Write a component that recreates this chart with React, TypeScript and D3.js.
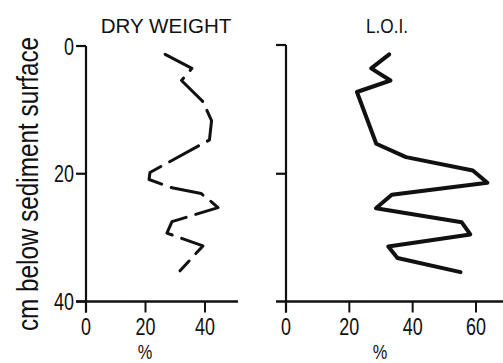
import React from "react";
import * as d3 from "d3";

// Dry weight profile (%), by depth (cm below sediment surface)
const dryDepth = [1.3, 3.5, 5.4, 8.7, 11.7, 14.7, 19.8, 20.9, 22.2, 23.1, 24.2, 25.3, 27.5, 29.3, 31.3, 35.2];
const dryWeight = [26.6, 35.6, 32.1, 39.3, 42.2, 41.5, 21.5, 21.2, 28.9, 38.7, 41.7, 44.4, 28.9, 27.2, 39.3, 31.6];

// Loss on ignition profile (%), by depth
const loiDepth = [1.3, 3.5, 5.4, 7.2, 15.3, 17.4, 19.5, 21.4, 23.3, 25.4, 27.6, 29.5, 31.4, 33.2, 35.4];
const loiValue = [32.6, 26.9, 33.0, 22.4, 28.5, 37.9, 59.0, 63.6, 33.4, 28.4, 55.5, 58.2, 32.3, 35.2, 55.1];

const depthTicks = [0, 20, 40];
const dryTicks = [0, 20, 40];
const loiTicks = [0, 20, 40, 60];

const W = 503;
const H = 363;
const FONT = "'Liberation Sans', Arial, sans-serif";
const INK = "#111";

// Condensed text: regular sans squeezed horizontally around its anchor point
function Narrow({
  x,
  y,
  size,
  anchor = "middle",
  squeeze = 0.78,
  rotate = 0,
  children,
}: {
  x: number;
  y: number;
  size: number;
  anchor?: "start" | "middle" | "end";
  squeeze?: number;
  rotate?: number;
  children: React.ReactNode;
}) {
  return (
    <text
      transform={`translate(${x}, ${y}) rotate(${rotate}) scale(${squeeze}, 1)`}
      textAnchor={anchor}
      fontSize={size}
      fill={INK}
    >
      {children}
    </text>
  );
}

export default function App() {
  const y = d3.scaleLinear().domain([0, 40]).range([46, 301.5]);
  const xDry = d3.scaleLinear().domain([0, 40]).range([86, 205]);
  const xLoi = d3.scaleLinear().domain([0, 60]).range([286, 476]);

  const dryLine = d3
    .line<number>()
    .x((d) => xDry(d))
    .y((_, i) => y(dryDepth[i]));
  const loiLine = d3
    .line<number>()
    .x((d) => xLoi(d))
    .y((_, i) => y(loiDepth[i]));

  const yBottom = y(40);

  return (
    <svg
      width={W}
      height={H}
      viewBox={`0 0 ${W} ${H}`}
      style={{ position: "absolute", left: 0, top: 0, background: "#fff" }}
      fontFamily={FONT}
    >
      {/* Y axis title */}
      <Narrow x={38} y={184} size={30} rotate={-90} squeeze={0.81}>
        cm below sediment surface
      </Narrow>

      {/* Panel titles */}
      <Narrow x={166} y={33} size={21} squeeze={0.98}>
        DRY WEIGHT
      </Narrow>
      <Narrow x={387} y={33} size={21} squeeze={0.82}>
        L.O.I.
      </Narrow>

      {/* Left panel axes */}
      <line x1={xDry(0)} x2={xDry(0)} y1={y(0)} y2={yBottom + 11} stroke={INK} strokeWidth={2.2} />
      <line x1={76} x2={238} y1={yBottom} y2={yBottom} stroke={INK} strokeWidth={2.4} />
      {depthTicks.map((t) => (
        <g key={`ld${t}`}>
          <line x1={76} x2={xDry(0)} y1={y(t)} y2={y(t)} stroke={INK} strokeWidth={2.2} />
          <Narrow x={74} y={y(t) + 8.5} size={23} anchor="end">
            {t}
          </Narrow>
        </g>
      ))}
      {dryTicks.map((t) => (
        <g key={`lx${t}`}>
          <line x1={xDry(t)} x2={xDry(t)} y1={yBottom} y2={yBottom + 11} stroke={INK} strokeWidth={2} />
          <Narrow x={xDry(t)} y={335} size={23}>
            {t}
          </Narrow>
        </g>
      ))}
      <Narrow x={145} y={359} size={21}>
        %
      </Narrow>

      {/* Right panel axes */}
      <line x1={xLoi(0)} x2={xLoi(0)} y1={y(0) - 1} y2={yBottom + 11} stroke={INK} strokeWidth={2.2} />
      <line x1={276} x2={503} y1={yBottom} y2={yBottom} stroke={INK} strokeWidth={2.4} />
      {depthTicks.slice(0, 2).map((t) => (
        <line
          key={`rd${t}`}
          x1={276}
          x2={xLoi(0)}
          y1={y(t) - (t === 0 ? 1 : 0)}
          y2={y(t) - (t === 0 ? 1 : 0)}
          stroke={INK}
          strokeWidth={2.2}
        />
      ))}
      {loiTicks.map((t) => (
        <g key={`rx${t}`}>
          <line x1={xLoi(t)} x2={xLoi(t)} y1={yBottom} y2={yBottom + 11} stroke={INK} strokeWidth={2} />
          <Narrow x={xLoi(t)} y={335} size={23}>
            {t}
          </Narrow>
        </g>
      ))}
      <Narrow x={380} y={359} size={21}>
        %
      </Narrow>

      {/* Profiles */}
      <path
        d={dryLine(dryWeight) ?? ""}
        fill="none"
        stroke={INK}
        strokeWidth={3}
        strokeDasharray="33 10"
        strokeLinejoin="round"
        strokeLinecap="round"
      />
      <path
        d={loiLine(loiValue) ?? ""}
        fill="none"
        stroke={INK}
        strokeWidth={4}
        strokeLinejoin="round"
        strokeLinecap="round"
      />
    </svg>
  );
}
